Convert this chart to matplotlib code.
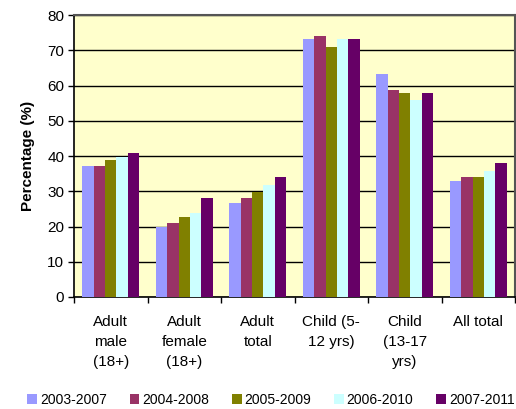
import matplotlib.pyplot as plt
import numpy as np
from matplotlib.patches import Patch

plt.rcParams['font.family'] = ['Liberation Sans', 'DejaVu Sans']

categories = ['Adult\nmale\n(18+)', 'Adult\nfemale\n(18+)', 'Adult\ntotal',
              'Child (5-\n12 yrs)', 'Child\n(13-17\nyrs)', 'All total']
periods = ['2003-2007', '2004-2008', '2005-2009', '2006-2010', '2007-2011']
v2003 = [37.2, 20.0, 26.7, 73.2, 63.3, 32.9]
v2004 = [37.2, 21.0, 28.1, 74.0, 58.7, 34.0]
v2005 = [38.9, 22.7, 29.8, 70.9, 57.9, 34.0]
v2006 = [39.7, 23.8, 31.8, 73.2, 55.9, 35.7]
v2007 = [40.9, 28.1, 34.0, 73.2, 57.9, 38.0]
series = [v2003, v2004, v2005, v2006, v2007]
colors = ['#9999FF', '#993366', '#808000', '#CCFFFF', '#660066']

fig = plt.figure(figsize=(5.16, 4.09), dpi=100)
ax = fig.add_axes([74/516, 112/409, 441/516, 282/409])
ax.set_facecolor('#FFFFCC')

x = np.arange(len(categories))
w = 1 / 6.5
for i, (vals, c) in enumerate(zip(series, colors)):
    ax.bar(x + (i - 2) * w, vals, width=w, color=c, zorder=3, label=periods[i])

ax.set_xlim(-0.5, len(categories) - 0.5)
ax.set_ylim(0, 80)
ax.set_yticks(range(0, 81, 10))
ax.yaxis.grid(True, color='black', linewidth=1, zorder=1)
ax.set_axisbelow(True)

ax.set_xticks(x)
ax.set_xticklabels(categories, fontsize=11, linespacing=1.55, va='top')
ax.set_xticks(np.arange(-0.5, len(categories), 1), minor=True)
ax.tick_params(axis='x', which='major', length=0, pad=13)
ax.tick_params(axis='x', which='minor', length=4, width=1, direction='out')
ax.tick_params(axis='y', length=4, width=1, labelsize=11, pad=3)

for s in ['left', 'bottom']:
    ax.spines[s].set_color('black')
    ax.spines[s].set_linewidth(1.2)
for s in ['top', 'right']:
    ax.spines[s].set_color('#555555')
    ax.spines[s].set_linewidth(1.5)

ax.set_ylabel('Percentage (%)', fontsize=11, fontweight='bold', labelpad=9)

handles = [Patch(facecolor=c, label=p) for c, p in zip(colors, periods)]
fig.legend(handles=handles, loc='lower center', ncol=5, frameon=False,
           bbox_to_anchor=(0.525, -0.025), fontsize=10, handlelength=0.7,
           handleheight=0.8, handletextpad=0.2, columnspacing=1.65)

fig.savefig('out.png', dpi=100)
